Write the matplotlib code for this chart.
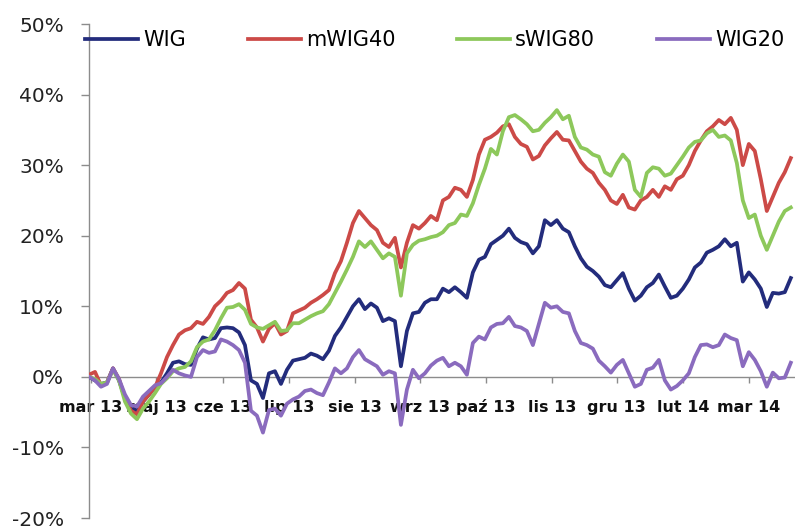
import numpy as np
import matplotlib
matplotlib.use("Agg")
import matplotlib.pyplot as plt
from matplotlib.ticker import FuncFormatter

# stopy zwrotu (%) od poczatku okresu, probki co ok. 2 sesje
wig = [
    0.0, -0.5, -1.0, -0.8, 1.2, -0.5, -3.0, -4.5, -4.8, -3.5,
    -2.5, -1.5, -0.8, 0.5, 2.0, 2.2, 1.8, 1.7, 4.0, 5.6,
    5.3, 5.5, 6.9, 7.0, 6.9, 6.3, 4.5, -0.5, -1.0, -3.0,
    0.5, 0.8, -1.0, 1.0, 2.3, 2.5, 2.7, 3.3, 3.0, 2.5,
    3.7, 5.8, 7.0, 8.5, 10.0, 11.0, 9.6, 10.4, 9.8, 7.9,
    8.3, 7.9, 1.5, 6.5, 9.0, 9.2, 10.5, 11.0, 11.0, 12.5,
    12.0, 12.7, 12.0, 11.2, 14.8, 16.6, 17.0, 18.8, 19.4, 20.0,
    21.0, 19.7, 19.1, 18.8, 17.5, 18.5, 22.2, 21.5, 22.2, 21.0,
    20.5, 18.5, 16.8, 15.6, 15.0, 14.2, 13.0, 12.7, 13.7, 14.7,
    12.5, 10.8, 11.5, 12.7, 13.3, 14.5, 12.8, 11.2, 11.5, 12.5,
    13.8, 15.5, 16.2, 17.6, 18.0, 18.5, 19.5, 18.5, 19.0, 13.5,
    14.8, 13.8, 12.5, 9.9, 11.9, 11.8, 12.0, 14.0]

mwig40 = [
    0.3, 0.7, -1.2, -0.8, 1.2, -0.3, -3.0, -4.8, -5.3, -3.5,
    -2.5, -1.5, 0.5, 2.8, 4.5, 6.0, 6.6, 6.9, 7.8, 7.5,
    8.5, 10.0, 10.8, 11.9, 12.3, 13.3, 12.5, 8.1, 7.0, 5.0,
    6.8, 7.6, 6.0, 6.5, 9.0, 9.4, 9.8, 10.5, 11.0, 11.6,
    12.3, 14.7, 16.4, 19.0, 21.8, 23.5, 22.5, 21.5, 20.8, 19.0,
    18.4, 19.7, 15.5, 19.0, 21.5, 21.0, 21.8, 22.8, 22.2, 25.0,
    25.5, 26.8, 26.5, 25.5, 27.9, 31.5, 33.6, 34.0, 34.6, 35.5,
    35.8, 34.0, 33.0, 32.6, 30.8, 31.3, 32.8, 33.8, 34.7, 33.6,
    33.5, 32.0, 30.5, 29.5, 28.9, 27.5, 26.5, 25.0, 24.5, 25.8,
    24.0, 23.7, 25.0, 25.5, 26.5, 25.5, 27.0, 26.5, 28.0, 28.5,
    30.0, 32.0, 33.5, 34.8, 35.5, 36.4, 35.8, 36.7, 35.0, 30.0,
    33.0, 32.0, 28.0, 23.5, 25.5, 27.5, 29.0, 31.0]

swig80 = [
    0.0, -0.3, -1.0, -0.8, 1.0, -0.5, -3.5, -5.2, -6.0, -4.5,
    -3.5, -2.3, -1.0, -0.2, 0.8, 1.2, 1.4, 2.2, 4.2, 5.0,
    5.3, 6.6, 8.3, 9.8, 9.9, 10.3, 9.5, 7.5, 7.0, 6.8,
    7.3, 7.8, 6.5, 6.6, 7.6, 7.6, 8.1, 8.6, 9.0, 9.3,
    10.3, 11.9, 13.5, 15.2, 17.0, 19.2, 18.4, 19.2, 18.0, 16.8,
    17.5, 17.0, 11.5, 17.5, 18.7, 19.3, 19.5, 19.8, 20.0, 20.5,
    21.5, 21.8, 23.0, 22.8, 24.6, 27.2, 29.5, 32.3, 31.5, 34.8,
    36.8, 37.1, 36.5, 35.8, 34.8, 35.0, 36.0, 36.8, 37.8, 36.5,
    37.0, 34.0, 32.5, 32.2, 31.5, 31.2, 29.0, 28.5, 30.2, 31.5,
    30.5, 26.5, 25.5, 28.9, 29.7, 29.5, 28.5, 28.8, 30.0, 31.2,
    32.5, 33.3, 33.5, 34.5, 35.0, 34.0, 34.2, 33.5, 30.3, 25.0,
    22.5, 23.0, 20.0, 18.0, 20.0, 22.0, 23.5, 24.0]

wig20 = [
    0.0, -0.5, -1.4, -1.0, 1.2, -0.3, -2.5, -4.0, -4.2, -2.8,
    -2.0, -1.2, -0.9, 0.0, 1.0, 0.5, 0.2, 0.0, 2.8, 3.8,
    3.4, 3.6, 5.3, 5.0, 4.5, 3.8, 2.0, -4.8, -5.5, -7.9,
    -4.7, -4.5, -5.5, -3.8, -3.2, -2.8, -2.0, -1.8, -2.3, -2.6,
    -0.8, 1.2, 0.5, 1.2, 2.8, 3.8, 2.5, 2.0, 1.5, 0.3,
    0.8, 0.5, -6.8, -1.8, 1.0, -0.2, 0.5, 1.6, 2.3, 2.7,
    1.5, 2.0, 1.5, 0.3, 4.8, 5.7, 5.3, 7.0, 7.5, 7.6,
    8.5, 7.2, 7.0, 6.5, 4.5, 7.5, 10.5, 9.8, 10.0, 9.2,
    9.0, 6.5, 4.8, 4.5, 4.0, 2.3, 1.5, 0.6, 1.7, 2.4,
    0.5, -1.4, -1.0, 1.0, 1.3, 2.4, -0.5, -1.8, -1.3, -0.5,
    0.5, 2.8, 4.5, 4.6, 4.2, 4.5, 6.0, 5.5, 5.2, 1.5,
    3.5, 2.4, 0.8, -1.4, 0.6, -0.2, -0.1, 2.0]

month_labels = ['mar 13', 'maj 13', 'cze 13', 'lip 13', 'sie 13', 'wrz 13',
                'paź 13', 'lis 13', 'gru 13', 'lut 14', 'mar 14']
month_pos = [0.3, 11.2, 22.3, 33.3, 44.3, 55.2, 66.2, 77.2, 88.0, 99.0, 110.0]

names = ['WIG', 'mWIG40', 'sWIG80', 'WIG20']
colors = ['#232C7C', '#CC4A47', '#8DC85B', '#8A6BBE']

x = np.arange(len(wig))

fig = plt.figure(figsize=(7.95, 5.26), dpi=100)
ax = fig.add_axes([89 / 795, 8 / 526, 706 / 795, 494 / 526])

for i, (name, vals, c) in enumerate(zip(names, [wig, mwig40, swig80, wig20], colors)):
    ax.plot(x, vals, color=c, lw=2.7, label=name, zorder=3 + i, solid_joinstyle='round')

# spines first - set_position resets the ticks
for s in ['top', 'right']:
    ax.spines[s].set_visible(False)
ax.spines['bottom'].set_position(('data', 0))
for s in ['left', 'bottom']:
    ax.spines[s].set_color('#8C8C8C')
    ax.spines[s].set_linewidth(1.0)

ax.set_xlim(0, 117.7)
ax.set_ylim(-20, 50)
ax.set_yticks(range(-20, 51, 10))
ax.yaxis.set_major_formatter(FuncFormatter(lambda v, p: f"{int(round(v))}%"))
ax.set_xticks(month_pos)
ax.set_xticklabels(month_labels)

ax.tick_params(axis='y', direction='out', length=6, width=1, color='#8C8C8C',
               pad=12, labelsize=14.5, labelcolor='#222222')
ax.tick_params(axis='x', direction='out', length=4, width=1, color='#8C8C8C', pad=21)

for lab in ax.get_xticklabels():
    lab.set_fontweight('bold')
    lab.set_fontsize(11.5)
    lab.set_color('#111111')
    lab.set_verticalalignment('baseline')

fig.legend(loc='center left', bbox_to_anchor=(85 / 795, 1 - 40 / 526), ncol=4,
           frameon=False, fontsize=15, handlelength=2.55, handletextpad=0.25,
           columnspacing=2.95, borderpad=0, borderaxespad=0)

fig.savefig('out.png', dpi=100, facecolor='white')
